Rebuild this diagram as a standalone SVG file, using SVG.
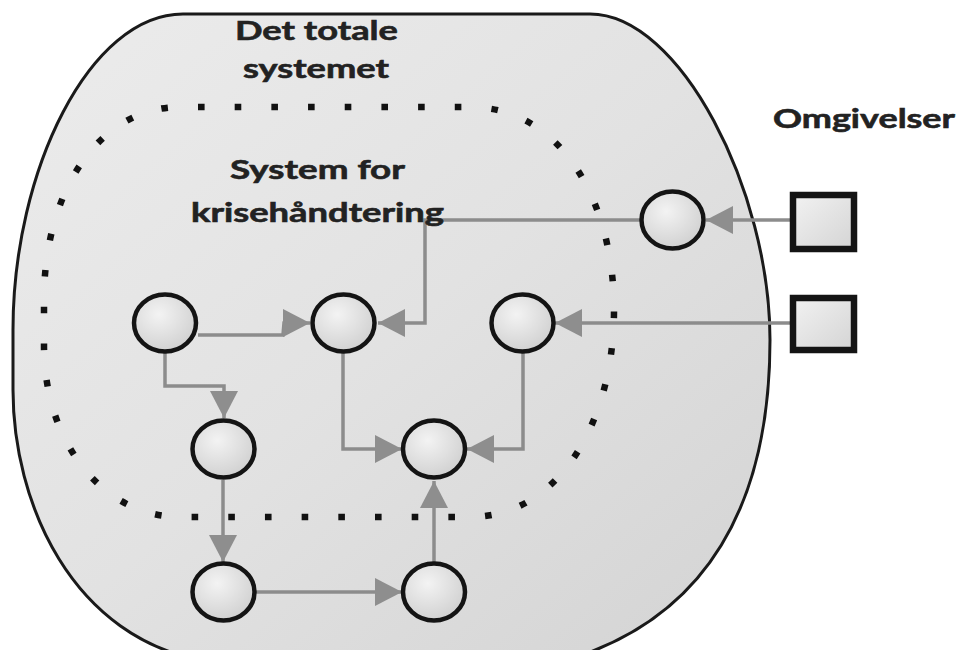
<svg xmlns="http://www.w3.org/2000/svg" width="963" height="650" viewBox="0 0 963 650">
  <style>
    .label { font-family: "Lato", "Open Sans", "Liberation Sans", sans-serif; font-weight: 700; font-size: 27px; fill: #222222; stroke: #222222; stroke-width: 0.6; }
    .node { fill: url(#nodeFill); stroke: #141414; stroke-width: 4.5; }
    .env { fill: url(#boxFill); stroke: #141414; stroke-width: 6.5; }
    .link { fill: none; stroke: #8c8c8c; stroke-width: 3.5; marker-end: url(#arrow); }
    .boundary { fill: none; stroke: #111111; stroke-width: 6.5; stroke-dasharray: 0.18 0.82; }
  </style>
  <defs>
    <linearGradient id="totalFill" x1="0" y1="0" x2="1" y2="1">
      <stop offset="0" stop-color="#ececec"/>
      <stop offset="0.5" stop-color="#e2e2e2"/>
      <stop offset="1" stop-color="#d3d3d3"/>
    </linearGradient>
    <radialGradient id="nodeFill" cx="0.4" cy="0.35" r="0.7">
      <stop offset="0" stop-color="#f3f3f3"/>
      <stop offset="1" stop-color="#cfcfcf"/>
    </radialGradient>
    <linearGradient id="boxFill" x1="0" y1="0" x2="1" y2="1">
      <stop offset="0" stop-color="#f2f2f2"/>
      <stop offset="1" stop-color="#d4d4d4"/>
    </linearGradient>
    <marker id="arrow" markerUnits="userSpaceOnUse" markerWidth="27" markerHeight="28" viewBox="0 0 27 28" refX="27" refY="14" orient="auto">
      <path d="M0,0 L27,14 L0,28 Z" fill="#8e8e8e"/>
    </marker>
  </defs>

  <rect width="963" height="650" fill="#ffffff"/>

  <!-- outer system: the whole system -->
  <g id="total-system">
    <path d="M183,14 H590 C680,14 770,190 770,340 C770,500 710,620 560,662 H210 C70,640 13,500 13,390 V330 C13,170 90,14 183,14 Z"
          fill="url(#totalFill)" stroke="#1a1a1a" stroke-width="3"/>
  </g>

  <!-- inner dotted boundary: crisis management system (46 evenly spaced dots) -->
  <g id="crisis-system">
    <path class="boundary" pathLength="46" d="M198,107 H470 C560,107 614,200 614,310 C614,420 560,517 470,517 H180 C105,517 44,445 44,345 V300 C44,190 100,107 180,107 Z"/>
  </g>

  <!-- connectors -->
  <g id="connectors">
    <path class="link" d="M793,220 H706"/>
    <path class="link" d="M641,220 H425 V323 H378"/>
    <path class="link" d="M793,323 H555"/>
    <path class="link" d="M198,335 H283 L284,323 H310"/>
    <path class="link" d="M165,353 V386 H224 V418"/>
    <path class="link" d="M343,353 V449 H402"/>
    <path class="link" d="M523,353 V449 H467"/>
    <path class="link" d="M223,480 V562"/>
    <path class="link" d="M255,592 H402"/>
    <path class="link" d="M434,562 V481"/>
  </g>

  <!-- labels -->
  <g id="labels">
    <text class="label" x="235" y="40" textLength="163" lengthAdjust="spacingAndGlyphs">Det totale</text>
    <text class="label" x="243" y="78" textLength="146" lengthAdjust="spacingAndGlyphs">systemet</text>
    <text class="label" x="230" y="179" textLength="175" lengthAdjust="spacingAndGlyphs">System for</text>
    <text class="label" x="191" y="222" textLength="253" lengthAdjust="spacingAndGlyphs">krisehåndtering</text>
    <text class="label" x="773" y="128" textLength="182" lengthAdjust="spacingAndGlyphs">Omgivelser</text>
  </g>

  <!-- process nodes -->
  <g id="n1"><ellipse class="node" cx="165" cy="323" rx="31" ry="28.5"/></g>
  <g id="n2"><ellipse class="node" cx="343.5" cy="323" rx="31" ry="28.5"/></g>
  <g id="n3"><ellipse class="node" cx="522.5" cy="323" rx="31" ry="28.5"/></g>
  <g id="n4"><ellipse class="node" cx="672.5" cy="220" rx="31" ry="28.5"/></g>
  <g id="n5"><ellipse class="node" cx="223.5" cy="449" rx="31" ry="28.5"/></g>
  <g id="n6"><ellipse class="node" cx="434" cy="449" rx="31" ry="28.5"/></g>
  <g id="n7"><ellipse class="node" cx="223.5" cy="592" rx="31" ry="28.5"/></g>
  <g id="n8"><ellipse class="node" cx="434" cy="592" rx="31" ry="28.5"/></g>

  <!-- environment sources -->
  <g id="env1"><rect class="env" x="793" y="195" width="61" height="54"/></g>
  <g id="env2"><rect class="env" x="793" y="298" width="61" height="52"/></g>
</svg>
